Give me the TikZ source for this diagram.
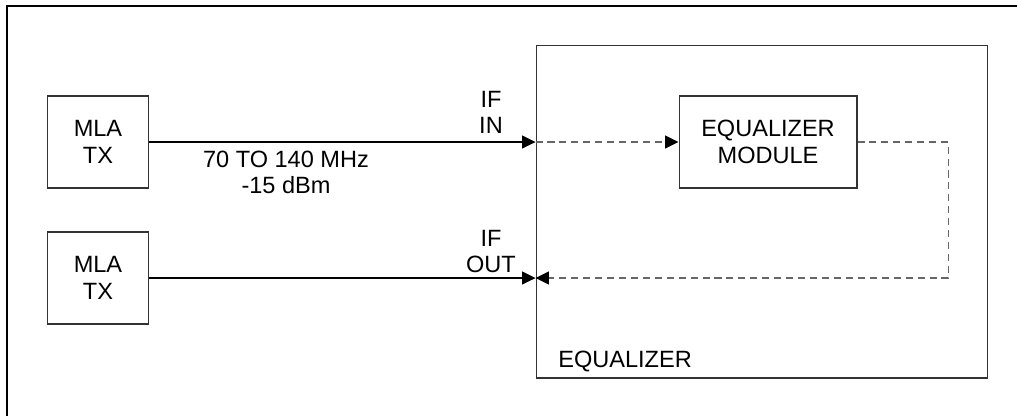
\documentclass[tikz,border=0pt]{standalone}
\usepackage{fontspec}
\setmainfont{Liberation Sans}
\usetikzlibrary{positioning,arrows.meta}

\begin{document}
\begin{tikzpicture}[x=0.02cm,y=-0.02cm,
  every node/.style={font=\fontsize{13.4}{15.2}\selectfont},
  blk/.style={draw=black!80,line width=0.6pt,inner sep=0pt,align=center},
  lbl/.style={inner sep=0pt,align=center},
  sig/.style={line width=0.6pt,-{Triangle[length=7.6pt,width=7.4pt,color=black]}},
  dsig/.style={sig,draw=black!60,dash pattern=on 4pt off 2.8pt},
  frm/.style={line width=1.4pt}]
\useasboundingbox (0,0) rectangle (1017,416);
\draw[frm] (7,416) -- (7,6) -- (1017,6);
\node[blk,minimum width=2.02cm,minimum height=1.84cm] (tx1) at (98,142) {MLA\\TX};
\node[blk,minimum width=2.02cm,minimum height=1.84cm] (tx2) at (98,278) {MLA\\TX};
\node[blk,minimum width=9.04cm,minimum height=6.66cm] (eq) at (762,211.5) {};
\node[blk,minimum width=3.56cm,minimum height=1.84cm] (eqm) at (768,142) {EQUALIZER\\MODULE};
\node[lbl,anchor=base west] (eqlbl) at (558,367.5) {EQUALIZER};
\node[lbl] (ifin) at (491,112.5) {IF\\IN};
\node[lbl] (ifout) at (491,251.5) {IF\\OUT};
\node[lbl] (freq) at (286,172.4) {70 TO 140 MHz\\-15 dBm};
% signal path
\draw[sig] (tx1.east) -- (tx1.east -| eq.west);
\draw[sig] (tx2.east) -- (tx2.east -| eq.west);
\draw[dsig] (tx1.east -| eq.west) -- (eqm.west);
\draw[dsig] (eqm.east) -- ++(91,0) |- (tx2.east -| eq.west);
\end{tikzpicture}
\end{document}
